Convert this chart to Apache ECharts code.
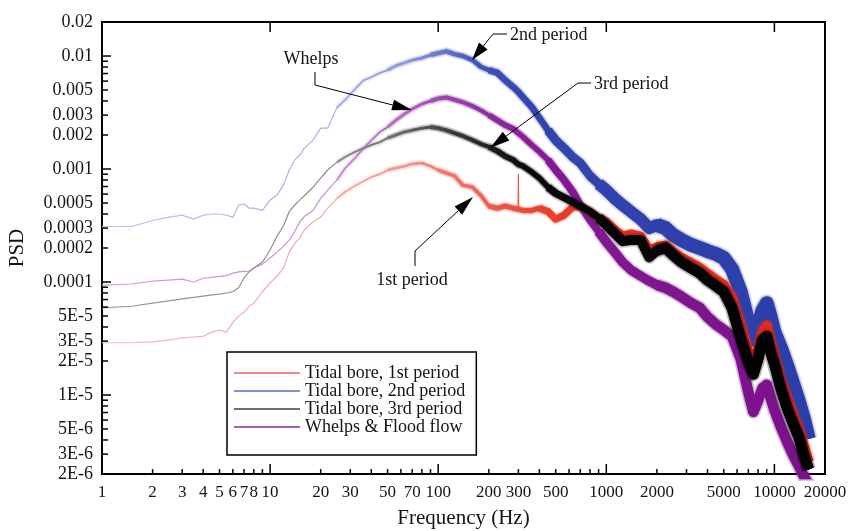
<!DOCTYPE html>
<html><head><meta charset="utf-8">
<script src="https://cdn.jsdelivr.net/npm/echarts@6/dist/echarts.min.js"></script>
<style>html,body{margin:0;padding:0;background:#fff}#c{width:850px;height:531px}</style>
</head><body><div id="c"></div>
<script>
// ---------------- data ----------------
const freq = [1, 1.5, 2, 2.5, 3, 3.5, 4, 4.5, 5, 5.5,
  6, 6.5, 7, 7.5, 8, 9, 10, 11, 12, 13,
  14, 15, 16, 18, 20, 22, 25, 28, 32, 36,
  40, 45, 50, 56, 63, 70, 80, 90, 100, 112,
  125, 140, 160, 180, 200, 225, 250, 280, 300, 320,
  360, 400, 450, 500, 560, 630, 700, 800, 900, 1000,
  1120, 1250, 1400, 1600, 1800, 2000, 2250, 2500, 2800, 3200,
  3600, 4000, 4500, 5000, 5600, 6300, 7000, 7500, 8000, 8500,
  9000, 9500, 10000, 11000, 12000, 13000, 14000, 15000, 16000];

const psd1st = [2.9e-5, 2.9e-5, 2.95e-5, 3.07e-5, 3.2e-5, 3.26e-5, 3.3e-5, 3.6e-5, 3.76e-5, 3.6e-5,
  4.4e-5, 5.0e-5, 5.4e-5, 6.1e-5, 6.5e-5, 8.2e-5, 9.8e-5, 1.13e-4, 1.33e-4, 1.84e-4,
  2.2e-4, 2.45e-4, 2.9e-4, 3.4e-4, 3.76e-4, 4.5e-4, 5.5e-4, 6.3e-4, 7.1e-4, 7.8e-4,
  8.5e-4, 9.0e-4, 9.8e-4, 1.02e-3, 1.06e-3, 1.11e-3, 1.13e-3, 1.06e-3, 9.8e-4, 9.2e-4,
  8.7e-4, 7.2e-4, 6.9e-4, 5.8e-4, 4.7e-4, 4.5e-4, 4.7e-4, 4.5e-4, 4.4e-4, 4.3e-4,
  4.3e-4, 4.5e-4, 4.2e-4, 3.6e-4, 3.9e-4, 4.6e-4, 4.6e-4, 4.2e-4, 3.7e-4, 3.4e-4,
  2.9e-4, 2.55e-4, 2.66e-4, 2.55e-4, 1.92e-4, 2.04e-4, 2.1e-4, 1.84e-4, 1.63e-4, 1.47e-4,
  1.33e-4, 1.18e-4, 1.04e-4, 9.4e-5, 7.2e-5, 4.1e-5, 2.4e-5, 1.88e-5, 2.5e-5, 3.6e-5,
  4.1e-5, 2.94e-5, 2.2e-5, 1.3e-5, 9.0e-6, 6.5e-6, 4.9e-6, 3.5e-6, 2.55e-6];

const psd2nd = [3.1e-4, 3.1e-4, 3.5e-4, 3.75e-4, 3.9e-4, 3.6e-4, 3.9e-4, 4.0e-4, 4.0e-4, 3.9e-4,
  3.75e-4, 4.8e-4, 4.9e-4, 4.5e-4, 4.5e-4, 4.3e-4, 5.3e-4, 5.9e-4, 7.2e-4, 9.8e-4,
  1.2e-3, 1.33e-3, 1.53e-3, 1.8e-3, 2.3e-3, 2.3e-3, 3.5e-3, 4.1e-3, 5.1e-3, 6.1e-3,
  6.5e-3, 7.1e-3, 7.5e-3, 8.2e-3, 8.7e-3, 9.2e-3, 9.6e-3, 1.02e-2, 1.06e-2, 1.1e-2,
  1.04e-2, 1.0e-2, 9.2e-3, 8.0e-3, 7.5e-3, 7.1e-3, 6.1e-3, 5.3e-3, 4.8e-3, 4.3e-3,
  3.54e-3, 2.83e-3, 2.2e-3, 1.8e-3, 1.53e-3, 1.28e-3, 1.13e-3, 8.7e-4, 7.4e-4, 6.5e-4,
  5.5e-4, 4.8e-4, 4.2e-4, 3.6e-4, 3.0e-4, 3.2e-4, 3.0e-4, 2.6e-4, 2.35e-4, 2.13e-4,
  2.0e-4, 1.88e-4, 1.77e-4, 1.63e-4, 1.3e-4, 8.2e-5, 4.4e-5, 3.1e-5, 4.2e-5, 5.6e-5,
  6.5e-5, 4.9e-5, 3.6e-5, 2.55e-5, 1.77e-5, 1.23e-5, 8.7e-6, 6.1e-6, 4.1e-6];

const psd3rd = [5.9e-5, 6.1e-5, 6.5e-5, 6.8e-5, 7.1e-5, 7.3e-5, 7.5e-5, 7.7e-5, 7.8e-5, 8.0e-5,
  8.2e-5, 8.9e-5, 1.09e-4, 1.23e-4, 1.33e-4, 1.5e-4, 1.92e-4, 2.55e-4, 3.13e-4, 4.2e-4,
  4.8e-4, 5.3e-4, 5.8e-4, 6.9e-4, 8.3e-4, 9.8e-4, 1.15e-3, 1.28e-3, 1.42e-3, 1.53e-3,
  1.63e-3, 1.73e-3, 1.88e-3, 2.0e-3, 2.13e-3, 2.2e-3, 2.3e-3, 2.35e-3, 2.3e-3, 2.2e-3,
  2.08e-3, 1.96e-3, 1.8e-3, 1.66e-3, 1.57e-3, 1.44e-3, 1.3e-3, 1.2e-3, 1.1e-3, 1.06e-3,
  9.4e-4, 8.3e-4, 6.9e-4, 6.1e-4, 5.6e-4, 5.1e-4, 4.7e-4, 4.2e-4, 3.7e-4, 3.2e-4,
  2.7e-4, 2.3e-4, 2.35e-4, 2.35e-4, 1.66e-4, 1.9e-4, 2.0e-4, 1.73e-4, 1.5e-4, 1.33e-4,
  1.2e-4, 1.04e-4, 9.2e-5, 8.2e-5, 5.9e-5, 3.2e-5, 1.96e-5, 1.53e-5, 2.1e-5, 3.07e-5,
  3.3e-5, 2.4e-5, 1.88e-5, 1.1e-5, 7.4e-6, 5.5e-6, 4.2e-6, 2.9e-6, 2.2e-6];

const psdWhelps = [9.4e-5, 9.6e-5, 1.02e-4, 1.04e-4, 1.06e-4, 1.0e-4, 1.08e-4, 1.1e-4, 1.12e-4, 1.14e-4,
  1.2e-4, 1.23e-4, 1.24e-4, 1.25e-4, 1.33e-4, 1.44e-4, 1.63e-4, 1.84e-4, 2.08e-4, 2.35e-4,
  2.8e-4, 3.4e-4, 3.8e-4, 4.3e-4, 5.5e-4, 6.5e-4, 8.0e-4, 1.02e-3, 1.25e-3, 1.53e-3,
  1.8e-3, 2.13e-3, 2.35e-3, 2.7e-3, 3.07e-3, 3.4e-3, 3.76e-3, 4.0e-3, 4.2e-3, 4.3e-3,
  4.1e-3, 3.9e-3, 3.6e-3, 3.3e-3, 3.0e-3, 2.7e-3, 2.45e-3, 2.26e-3, 2.08e-3, 1.92e-3,
  1.63e-3, 1.42e-3, 1.2e-3, 9.8e-4, 8.0e-4, 6.3e-4, 4.8e-4, 3.54e-4, 2.8e-4, 2.26e-4,
  1.84e-4, 1.5e-4, 1.28e-4, 1.13e-4, 1.02e-4, 9.4e-5, 8.9e-5, 8.2e-5, 7.4e-5, 6.5e-5,
  5.9e-5, 4.9e-5, 4.2e-5, 3.76e-5, 3.3e-5, 2.1e-5, 1.06e-5, 7.1e-6, 9.0e-6, 1.15e-5,
  1.23e-5, 9.4e-6, 7.4e-6, 5.1e-6, 3.76e-6, 2.9e-6, 2.35e-6, 1.9e-6, 1.6e-6];

// narrow spike in the 1st-period spectrum near 300 Hz
const spikeFreq1st = [298, 300, 302];
const spikePsd1st = [4.4e-4, 9.0e-4, 4.4e-4];

const seriesNames = ['Tidal bore, 1st period', 'Tidal bore, 2nd period', 'Tidal bore, 3rd period', 'Whelps & Flood flow'];
const xTickLabels = [1, 2, 3, 4, 5, 6, 7, 8, 10, 20, 30, 50, 70, 100, 200, 300, 500, 1000, 2000, 5000, 10000, 20000];
const yTickValues = [0.02, 0.01, 0.005, 0.003, 0.002, 0.001, 0.0005, 0.0003, 0.0002, 0.0001, 5e-5, 3e-5, 2e-5, 1e-5, 5e-6, 3e-6, 2e-6];
const yTickTexts = ['0.02', '0.01', '0.005', '0.003', '0.002', '0.001', '0.0005', '0.0003', '0.0002', '0.0001', '5E-5', '3E-5', '2E-5', '1E-5', '5E-6', '3E-6', '2E-6'];

// ---------------- styling / layout ----------------
const W = 850, H = 531;
const G = {left: 102, right: 25, top: 22, bottom: 57};
const FONT = '"Liberation Serif", "Times New Roman", serif';
const INK = '#141414';

function grad(stops) {
  return new echarts.graphic.LinearGradient(G.left, 0, W - G.right, 0,
    stops.map(s => ({offset: s[0], color: s[1]})), true);
}
function pairs(fs, vs) { return fs.map((f, i) => [f, vs[i]]); }
function lineLayer(name, data, w, color, opacity) {
  return {
    type: 'line', name: name, data: data,
    symbol: 'none', showSymbol: false, silent: true, animation: false,
    lineStyle: {width: w, color: color, opacity: opacity, cap: 'butt', join: 'round'},
    emphasis: {disabled: true}
  };
}
// a band of noise is shown as stacked widths: a soft halo below, then the core lines
function layers(name, fs, vs, widths, stops) {
  const all = pairs(fs, vs);
  const g = grad(stops);
  const halo = widths.filter(([fmin]) => fmin >= 25)
    .map(([fmin, w]) => lineLayer(name, all.filter(d => d[0] >= fmin), w + 4, g, 0.16));
  const core = widths.map(([fmin, w]) => lineLayer(name, all.filter(d => d[0] >= fmin), w, g, 1));
  return halo.concat(core);
}

const blueStops = [[0, '#b7bfea'], [0.34, '#a7b0e4'], [0.42, '#8e99da'], [0.47, '#6475c9'], [0.52, '#4254b9'], [0.6, '#3244ad'], [1, '#2b3da8']];
const blackStops = [[0, '#9a9a9a'], [0.34, '#8a8a8a'], [0.42, '#666666'], [0.47, '#444444'], [0.54, '#1c1c1c'], [0.6, '#080808'], [1, '#000000']];
const purpleStops = [[0, '#d3a2da'], [0.34, '#c58ccf'], [0.42, '#b068be'], [0.47, '#9c48ac'], [0.54, '#8c2a9c'], [0.62, '#821a92'], [1, '#7a108a']];
const redStops = [[0, '#f7baba'], [0.34, '#f4a6a4'], [0.42, '#f29290'], [0.47, '#f07a72'], [0.54, '#ec5c4c'], [0.6, '#e84434'], [0.7, '#e4301e'], [1, '#e2281a']];

const blueW = [[1, 1.2], [25, 2], [50, 3], [90, 4.5], [200, 6.5], [450, 9], [900, 12], [2000, 14]];
const blackW = [[1, 1.2], [25, 2], [50, 3], [90, 4], [200, 5.5], [450, 7.5], [900, 10], [2000, 11]];
const purpleW = [[1, 1.2], [25, 2], [50, 3], [90, 4], [200, 5.5], [450, 7.5], [900, 9.5], [2000, 10.5]];
const redW = [[1, 1.2], [25, 1.8], [50, 2.5], [100, 3.5], [200, 5], [400, 7], [900, 9], [2000, 10]];

const series = [].concat(
  layers(seriesNames[1], freq, psd2nd, blueW, blueStops),
  layers(seriesNames[3], freq, psdWhelps, purpleW, purpleStops),
  layers(seriesNames[0], freq, psd1st, redW, redStops),
  [lineLayer(seriesNames[0], pairs(spikeFreq1st, spikePsd1st), 1, '#e8503c', 1)],
  layers(seriesNames[2], freq, psd3rd, blackW, blackStops)
);

const legendColors = ['#f08a8a', '#8090d8', '#707070', '#a45cb6'];

const chart = echarts.init(document.getElementById('c'), null, {renderer: 'canvas', width: W, height: H});
chart.setOption({
  backgroundColor: '#ffffff',
  animation: false,
  grid: {left: G.left, right: G.right, top: G.top, bottom: G.bottom, show: true,
    borderColor: '#000', borderWidth: 2, backgroundColor: 'transparent', outerBoundsMode: 'none'},
  xAxis: {type: 'log', logBase: 10, min: 1, max: 20000,
    axisLine: {show: false}, axisTick: {show: false}, axisLabel: {show: false}, splitLine: {show: false},
    name: 'Frequency (Hz)', nameLocation: 'middle', nameGap: 34,
    nameTextStyle: {fontFamily: FONT, fontSize: 21, color: INK}},
  yAxis: {type: 'log', logBase: 10, min: 2e-6, max: 0.02,
    axisLine: {show: false}, axisTick: {show: false}, axisLabel: {show: false}, splitLine: {show: false},
    name: 'PSD', nameLocation: 'middle', nameGap: 74,
    nameTextStyle: {fontFamily: FONT, fontSize: 21, color: INK}},
  legend: {
    orient: 'vertical', left: 227, top: 352,
    backgroundColor: '#fff', borderColor: '#000', borderWidth: 1.5, borderRadius: 0,
    padding: [12, 11, 19, 7], itemGap: 0, itemWidth: 66, itemHeight: 2, icon: 'rect',
    selectedMode: false,
    textStyle: {fontFamily: FONT, fontSize: 18, color: INK},
    data: seriesNames.map((n, i) => ({name: n, itemStyle: {color: legendColors[i], borderWidth: 0}}))
  },
  series: series
});

// ---------------- ticks, tick labels and annotations ----------------
const px = v => chart.convertToPixel({xAxisIndex: 0}, v);
const py = v => chart.convertToPixel({yAxisIndex: 0}, v);
const xL = px(1), yBot = py(2e-6), yTop = py(0.02);
const gfx = [];
function tick(x1, y1, x2, y2, w) {
  gfx.push({type: 'line', shape: {x1, y1, x2, y2}, style: {stroke: '#000', lineWidth: w}, z: 50, silent: true});
}
for (let e = 0; e <= 4; e++) {
  for (let m = 1; m <= 9; m++) {
    const v = m * Math.pow(10, e);
    if (v <= 1 || v >= 20000) continue;
    const x = px(v);
    const major = (m === 1);
    tick(x, yBot, x, yBot - (major ? 10 : 5), 1.5);
    if (major) tick(x, yTop, x, yTop + 10, 1.5);
  }
}
for (let e = -6; e <= -2; e++) {
  for (let m = 1; m <= 9; m++) {
    const v = m * Math.pow(10, e);
    if (v < 2e-6 * 1.0001 || v > 0.02 * 0.9999) continue;
    const y = py(v);
    tick(xL, y, xL + (m === 1 ? 9 : 6), y, 1.5);
  }
}
xTickLabels.forEach(v => {
  gfx.push({type: 'text', x: px(v), y: yBot + 10, silent: true, z: 50,
    style: {text: String(v), fill: INK, font: '17px ' + FONT, align: 'center', verticalAlign: 'top'}});
});
yTickValues.forEach((v, i) => {
  gfx.push({type: 'text', x: xL - 9, y: py(v), silent: true, z: 50,
    style: {text: yTickTexts[i], fill: INK, font: '18px ' + FONT, align: 'right', verticalAlign: 'middle'}});
});

function arrow(pts, headLen, headW) {
  const n = pts.length;
  const [tx, ty] = pts[n - 1], [sx, sy] = pts[n - 2];
  const dx = tx - sx, dy = ty - sy, L = Math.hypot(dx, dy), ux = dx / L, uy = dy / L;
  const bx = tx - ux * headLen, by = ty - uy * headLen;
  gfx.push({type: 'polyline', shape: {points: pts.slice(0, n - 1).concat([[bx, by]])},
    style: {stroke: '#000', lineWidth: 1, fill: null}, z: 100, silent: true});
  gfx.push({type: 'polygon', shape: {points: [[tx, ty], [bx - uy * headW, by + ux * headW], [bx + uy * headW, by - ux * headW]]},
    style: {fill: '#000'}, z: 100, silent: true});
}
function note(text, x, y, align) {
  gfx.push({type: 'text', x, y, z: 100, silent: true,
    style: {text, fill: INK, font: '18px ' + FONT, align, verticalAlign: 'middle'}});
}
note('Whelps', 311, 59, 'center');
arrow([[315, 72], [315, 85], [412, 110]], 20, 5.5);
note('2nd period', 510, 35, 'left');
arrow([[507, 34], [493, 34], [472, 60]], 18, 5.5);
note('3rd period', 594, 84, 'left');
arrow([[591, 83], [578, 83], [490, 148]], 20, 5.5);
note('1st period', 412, 280, 'center');
arrow([[415, 266], [415, 251], [473, 197]], 20, 5.5);

chart.setOption({graphic: gfx});
</script>
</body></html>
